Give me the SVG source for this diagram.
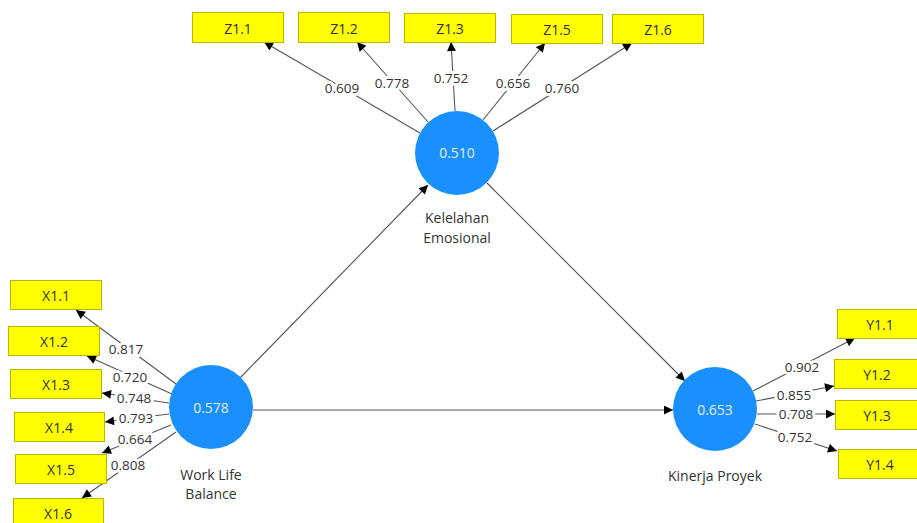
<svg xmlns="http://www.w3.org/2000/svg" width="917" height="523" viewBox="0 0 917 523">
<style>
text{font-family:"Open Sans","Noto Sans","DejaVu Sans",sans-serif;font-size:13.5px;text-anchor:middle;dominant-baseline:central}
.box rect{fill:#ffff00;stroke:#b8b800;stroke-width:1}
.box text{fill:#333;font-size:14px}
.lv circle{fill:#1a90ff}
.lv .val{fill:#e4ecff;font-size:14px}
.lv .name{fill:#333;font-size:14px}
.c line{stroke:#555;stroke-width:1.1;fill:none}
.c .arr{marker-end:url(#ah)}
.lbl{fill:#333;stroke:#fff;stroke-width:6;paint-order:stroke;stroke-linejoin:round}
</style>
<defs>
<marker id="ah" viewBox="0 0 10 10" refX="10" refY="5" markerWidth="10" markerHeight="9" markerUnits="userSpaceOnUse" orient="auto">
<path d="M0,0 L10,5 L0,10 z" fill="#000"/>
</marker>
</defs>
<rect width="917" height="523" fill="#fff"/>
<g class="c" id="connectors">
<line class="arr" x1="420" y1="133" x2="264" y2="42"/>
<line class="arr" x1="428" y1="122" x2="357" y2="42"/>
<line class="arr" x1="455" y1="111" x2="451" y2="42"/>
<line class="arr" x1="483" y1="120" x2="545" y2="43"/>
<line class="arr" x1="493" y1="131" x2="632" y2="43"/>
<line class="arr" x1="176" y1="384" x2="76" y2="310"/>
<line class="arr" x1="172" y1="394" x2="87" y2="356"/>
<line class="arr" x1="169" y1="403" x2="102" y2="393"/>
<line class="arr" x1="169" y1="414" x2="105" y2="422"/>
<line class="arr" x1="171" y1="425" x2="102" y2="453"/>
<line class="arr" x1="176" y1="432" x2="82" y2="498"/>
<line class="arr" x1="753" y1="391" x2="855" y2="338"/>
<line class="arr" x1="756" y1="401" x2="834" y2="386"/>
<line class="arr" x1="757" y1="414" x2="835" y2="414"/>
<line class="arr" x1="755" y1="424" x2="837" y2="451"/>
<line class="arr" x1="240" y1="378" x2="428" y2="185"/>
<line class="arr" x1="487" y1="183" x2="685" y2="381"/>
<line class="arr" x1="253" y1="410" x2="673" y2="410"/>
<text class="lbl" x="342" y="88">0.609</text>
<text class="lbl" x="392" y="83">0.778</text>
<text class="lbl" x="451" y="78">0.752</text>
<text class="lbl" x="513" y="83">0.656</text>
<text class="lbl" x="562" y="88">0.760</text>
<text class="lbl" x="126" y="349">0.817</text>
<text class="lbl" x="130" y="377">0.720</text>
<text class="lbl" x="134" y="398">0.748</text>
<text class="lbl" x="136" y="418">0.793</text>
<text class="lbl" x="135" y="439">0.664</text>
<text class="lbl" x="128" y="465">0.808</text>
<text class="lbl" x="802" y="367">0.902</text>
<text class="lbl" x="794" y="395">0.855</text>
<text class="lbl" x="796" y="414">0.708</text>
<text class="lbl" x="795" y="437">0.752</text>
</g>
<g class="box" id="Z1.1"><rect x="192.5" y="12.5" width="91" height="30"/><text x="238" y="28">Z1.1</text></g>
<g class="box" id="Z1.2"><rect x="298.5" y="12.5" width="91" height="30"/><text x="344" y="28">Z1.2</text></g>
<g class="box" id="Z1.3"><rect x="404.5" y="13.5" width="91" height="29"/><text x="450" y="28">Z1.3</text></g>
<g class="box" id="Z1.5"><rect x="511.5" y="14.5" width="91" height="29"/><text x="557" y="29">Z1.5</text></g>
<g class="box" id="Z1.6"><rect x="612.5" y="14.5" width="91" height="29"/><text x="658" y="29">Z1.6</text></g>
<g class="box" id="X1.1"><rect x="10.5" y="280.5" width="91" height="29"/><text x="56" y="295">X1.1</text></g>
<g class="box" id="X1.2"><rect x="8.5" y="326.5" width="91" height="29"/><text x="54" y="341">X1.2</text></g>
<g class="box" id="X1.3"><rect x="10.5" y="369.5" width="91" height="29"/><text x="56" y="384">X1.3</text></g>
<g class="box" id="X1.4"><rect x="14.5" y="412.5" width="90" height="29"/><text x="59" y="427">X1.4</text></g>
<g class="box" id="X1.5"><rect x="15.5" y="454.5" width="91" height="29"/><text x="61" y="469">X1.5</text></g>
<g class="box" id="X1.6"><rect x="13.5" y="498.5" width="90" height="29"/><text x="58" y="513">X1.6</text></g>
<g class="box" id="Y1.1"><rect x="837.5" y="309.5" width="91" height="29"/><text x="880" y="324">Y1.1</text></g>
<g class="box" id="Y1.2"><rect x="834.5" y="359.5" width="91" height="29"/><text x="877" y="374">Y1.2</text></g>
<g class="box" id="Y1.3"><rect x="835.5" y="400.5" width="91" height="29"/><text x="877" y="415">Y1.3</text></g>
<g class="box" id="Y1.4"><rect x="838.5" y="449.5" width="91" height="29"/><text x="880" y="464">Y1.4</text></g>
<g class="lv" id="kelelahan-emosional"><circle cx="457" cy="153" r="42"/><text class="val" x="457" y="152">0.510</text><text class="name" x="457" y="217">Kelelahan</text><text class="name" x="457" y="237">Emosional</text></g>
<g class="lv" id="work-life-balance"><circle cx="211" cy="407" r="42"/><text class="val" x="211" y="407">0.578</text><text class="name" x="211" y="474">Work Life</text><text class="name" x="211" y="493">Balance</text></g>
<g class="lv" id="kinerja-proyek"><circle cx="715" cy="409" r="42"/><text class="val" x="715" y="409">0.653</text><text class="name" x="715" y="475">Kinerja Proyek</text></g>
</svg>
